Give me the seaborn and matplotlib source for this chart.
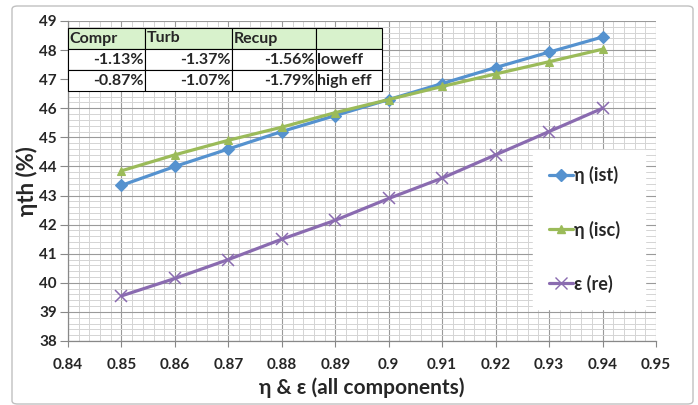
import matplotlib
matplotlib.use("Agg")
import matplotlib.pyplot as plt
import seaborn as sns
import pandas as pd
import numpy as np
from matplotlib.patches import FancyBboxPatch
from matplotlib.ticker import MultipleLocator

# ---- data ----
x_vals = [0.85, 0.86, 0.87, 0.88, 0.89, 0.90, 0.91, 0.92, 0.93, 0.94]
eta_ist = [43.35, 44.0, 44.6, 45.2, 45.75, 46.3, 46.85, 47.4, 47.93, 48.45]
eta_isc = [43.85, 44.4, 44.9, 45.35, 45.85, 46.3, 46.75, 47.18, 47.6, 48.03]
eps_re = [39.55, 40.15, 40.8, 41.5, 42.15, 42.9, 43.6, 44.4, 45.2, 46.0]
series_names = ["η (ist)", "η (isc)", "ε (re)"]
colors = ["#5592cf", "#9bbb59", "#8a6bb0"]
markers = ["D", "^", "x"]

table_header = ["Compr", "Turb", "Recup", ""]
table_rows = [["-1.13%", "-1.37%", "-1.56%", "loweff"],
              ["-0.87%", "-1.07%", "-1.79%", "high eff"]]

x_ticks = [0.84, 0.85, 0.86, 0.87, 0.88, 0.89, 0.9, 0.91, 0.92, 0.93, 0.94, 0.95]
y_ticks = list(range(38, 50))

sns.set_theme(style="white")
plt.rcParams['font.family'] = ['Lato', 'DejaVu Sans']

fig = plt.figure(figsize=(6.98, 4.05), dpi=100)
fig.patch.set_facecolor("white")
border = FancyBboxPatch((12 / 698, 1 / 405), 681 / 698, 398 / 405,
                        boxstyle="round,pad=0,rounding_size=0.008",
                        transform=fig.transFigure, facecolor="white",
                        edgecolor="#c0c0c0", linewidth=1.0, zorder=-10)
fig.patches.append(border)

ax = fig.add_axes([68 / 698, 1 - 341 / 405, (656 - 68) / 698, (341 - 21) / 405])

for ys, c, m in zip([eta_ist, eta_isc, eps_re], colors, markers):
    sns.lineplot(x=x_vals, y=ys, color=c, marker=m,
                 linewidth=2.3, markersize=(8 if m == "x" else 6),
                 markeredgewidth=(1.1 if m == "x" else 0.8),
                 markeredgecolor=c, ax=ax, zorder=3)

ax.set_xlim(0.84, 0.95)
ax.set_ylim(38, 49)
ax.set_xticks(x_ticks)
ax.set_xticklabels([f"{v:g}" for v in x_ticks], fontsize=11, fontweight="bold")
ax.set_yticks(y_ticks)
ax.set_yticklabels([str(v) for v in y_ticks], fontsize=11, fontweight="bold")
ax.xaxis.set_minor_locator(MultipleLocator(0.002))
ax.yaxis.set_minor_locator(MultipleLocator(0.2))
ax.grid(which="major", color="#9a9a9a", linewidth=0.8, zorder=0)
ax.grid(which="minor", color="#d4d4d4", linewidth=0.7, zorder=0)
ax.set_axisbelow(True)
ax.tick_params(axis="x", which="major", direction="out", length=4, width=0.8,
               color="#888888", pad=8, bottom=True)
ax.tick_params(axis="y", which="major", direction="out", length=6, width=0.8,
               color="#888888", pad=2, left=True)
ax.tick_params(axis="both", which="minor", length=0)
for s in ["left", "bottom"]:
    ax.spines[s].set_color("#888888")
    ax.spines[s].set_linewidth(0.9)
for s in ["top", "right"]:
    ax.spines[s].set_visible(False)

ax.set_xlabel("η & ε (all components)", fontsize=15, fontweight="bold", labelpad=4)
ax.set_ylabel("ηth (%)", fontsize=16, fontweight="bold", labelpad=1)

# table
col_edges = [68, 145, 232, 316, 382]
def fx(px):
    return (px - 68) / 588
def fy(py):
    return (341 - py) / 320
tbl = ax.table(cellText=[table_header] + table_rows,
               bbox=[fx(68), fy(91), fx(382) - fx(68), fy(28) - fy(91)],
               colWidths=[(col_edges[i + 1] - col_edges[i]) / 314 for i in range(4)],
               cellLoc="right")
tbl.auto_set_font_size(False)
tbl.set_zorder(5)
for (r, c), cell in tbl.get_celld().items():
    cell.set_edgecolor("black")
    cell.set_linewidth(0.8)
    cell.PAD = 0.02
    txt = cell.get_text()
    txt.set_fontsize(11.5)
    txt.set_fontweight("bold")
    if r == 0:
        cell.set_facecolor("#d8f2cc")
        txt.set_ha("left")
        cell._loc = "left"
    else:
        cell.set_facecolor("white")
        if c == 3:
            txt.set_ha("left")
            cell._loc = "left"

# legend
handles = [plt.Line2D([], [], color=c, marker=m, linewidth=2.3, markersize=6 if m != "x" else 8,
                      markeredgecolor=c) for c, m in zip(colors, markers)]
leg = ax.legend(handles, series_names, loc="upper left",
                bbox_to_anchor=(fx(533), fy(308), fx(645) - fx(533), fy(150) - fy(308)),
                mode="expand", frameon=True, fancybox=False, framealpha=1,
                prop={"weight": "bold", "size": 13}, handlelength=1.3,
                handletextpad=0.05, labelspacing=2.0, borderpad=0.9, borderaxespad=0)
leg.get_frame().set_edgecolor("white")
leg.get_frame().set_facecolor("white")
leg.set_zorder(6)

fig.savefig("out.png", dpi=100)
